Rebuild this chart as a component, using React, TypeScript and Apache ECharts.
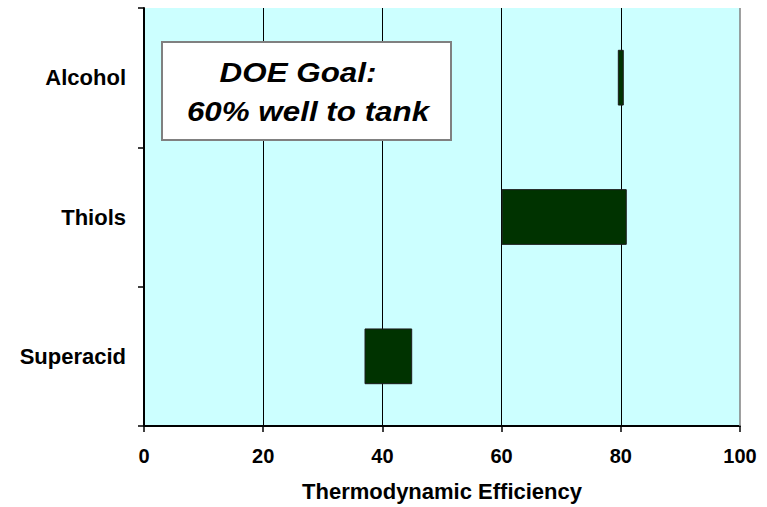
import React, { useEffect, useRef } from "react";
import * as echarts from "echarts";

const categories = ["Superacid", "Thiols", "Alcohol"];
const lowValues = [37, 60, 79.5];
const highValues = [45, 81, 80.5];
const xTicks = [0, 20, 40, 60, 80, 100];
const axisTitle = "Thermodynamic Efficiency";
const goalLines = ["DOE Goal:", "60% well to tank"];

export default function App() {
  const ref = useRef<HTMLDivElement>(null);
  useEffect(() => {
    if (!ref.current) return;
    const chart = echarts.init(ref.current, undefined, { renderer: "svg" });
    const font = "'Liberation Sans', Arial, sans-serif";
    const goalStyle = {
      fontFamily: font,
      fontWeight: "bold",
      fontStyle: "italic",
      fontSize: 28,
      fill: "#000",
      align: "center",
      verticalAlign: "middle",
    };
    chart.setOption({
      animation: false,
      grid: {
        left: 144,
        right: 27,
        top: 8,
        bottom: 80,
        show: true,
        backgroundColor: "#CCFFFF",
        borderWidth: 0,
      },
      xAxis: {
        type: "value",
        min: xTicks[0],
        max: xTicks[xTicks.length - 1],
        interval: 20,
        name: axisTitle,
        nameLocation: "middle",
        nameGap: 54,
        nameTextStyle: { fontFamily: font, fontWeight: "bold", fontSize: 22, color: "#000" },
        axisLine: { show: true, lineStyle: { color: "#000", width: 2 } },
        axisTick: { show: true, length: 6, lineStyle: { color: "#000", width: 1.5 } },
        axisLabel: { fontFamily: font, fontWeight: "bold", fontSize: 20, color: "#000", margin: 20 },
        splitLine: {
          show: true,
          showMinLine: false,
          showMaxLine: false,
          lineStyle: { color: "#000", width: 1 },
        },
      },
      yAxis: {
        type: "category",
        data: categories,
        axisLine: { show: true, lineStyle: { color: "#000", width: 2 } },
        axisTick: { show: true, length: 6, lineStyle: { color: "#000", width: 1.5 } },
        axisLabel: { fontFamily: font, fontWeight: "bold", fontSize: 22, color: "#000", margin: 18 },
        splitLine: { show: false },
      },
      series: [
        {
          type: "bar",
          stack: "range",
          data: lowValues,
          barWidth: "40%",
          itemStyle: { color: "transparent" },
          silent: true,
        },
        {
          type: "bar",
          stack: "range",
          data: highValues.map((h, i) => h - lowValues[i]),
          barWidth: "40%",
          itemStyle: { color: "#003300", borderColor: "#1a1a1a", borderWidth: 1 },
          markLine: {
            silent: true,
            symbol: "none",
            label: { show: false },
            lineStyle: { color: "#808080", type: "solid", width: 1.5 },
            data: [{ xAxis: xTicks[xTicks.length - 1] }],
          },
        },
      ],
      graphic: [
        {
          type: "rect",
          shape: { x: 162, y: 42, width: 289, height: 98 },
          style: { fill: "#fff", stroke: "#808080", lineWidth: 2 },
          z: 100,
        },
        {
          type: "text",
          x: 298,
          y: 72,
          scaleX: 1.12,
          style: { ...goalStyle, text: goalLines[0] },
          z: 101,
        },
        {
          type: "text",
          x: 308,
          y: 111.5,
          scaleX: 1.12,
          style: { ...goalStyle, text: goalLines[1] },
          z: 101,
        },
      ],
    });
    return () => chart.dispose();
  }, []);
  return (
    <div
      ref={ref}
      style={{ position: "fixed", left: 0, top: 0, width: 767, height: 507, background: "#fff" }}
    />
  );
}
